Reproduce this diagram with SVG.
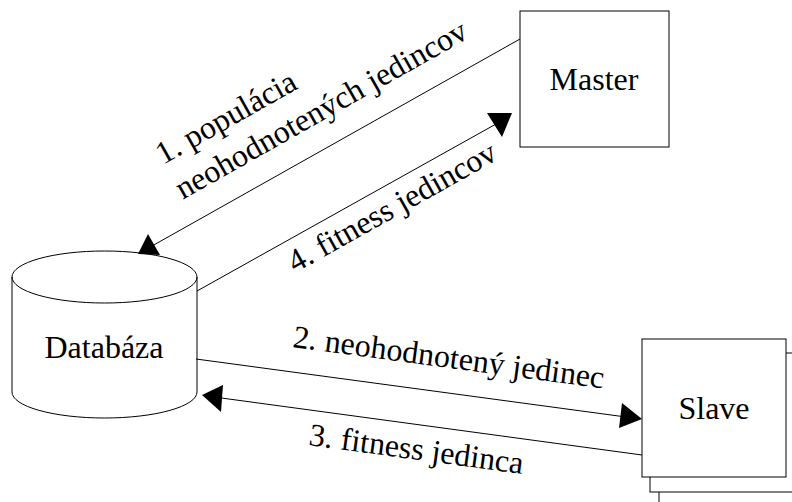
<svg xmlns="http://www.w3.org/2000/svg" width="792" height="502" viewBox="0 0 792 502" font-family="'Liberation Serif', 'Times New Roman', Times, serif">
  <style>
    .box { fill: #ffffff; stroke: #000000; stroke-width: 1; }
    .wire { fill: none; stroke: #000000; stroke-width: 1; }
    .head { fill: #000000; stroke: none; }
    text { font-family: 'Liberation Serif', 'Times New Roman', Times, serif; font-size: 32px; fill: #000000; }
    .mid { text-anchor: middle; }
  </style>
  <rect x="0" y="0" width="792" height="502" fill="#ffffff"/>

  <!-- Master -->
  <g id="master">
    <rect class="box" x="520" y="11" width="149" height="136"/>
    <text class="mid" x="594" y="90">Master</text>
  </g>

  <!-- Database cylinder -->
  <g id="databaza">
    <path class="box" d="M12,277 L12,392 A92.5,26 0 0 0 197,392 L197,277 A92.5,26 0 0 0 12,277 Z"/>
    <path class="wire" d="M12,277 A92.5,26 0 0 0 197,277"/>
    <text class="mid" x="104" y="358">Databáza</text>
  </g>

  <!-- Slave (stack of workers) -->
  <g id="slave">
    <rect class="box" x="659" y="368" width="144" height="139"/>
    <rect class="box" x="650" y="353" width="144" height="139"/>
    <rect class="box" x="642" y="339" width="144" height="138"/>
    <text class="mid" x="714" y="419">Slave</text>
  </g>

  <!-- Connectors -->
  <g id="connectors">
    <line class="wire" x1="520" y1="39" x2="152" y2="246"/>
    <polygon class="head" points="148,234 138,254 160,255"/>

    <line class="wire" x1="197" y1="291" x2="496" y2="124"/>
    <polygon class="head" points="487,113 512,113 502,137"/>

    <line class="wire" x1="196" y1="359" x2="626" y2="417"/>
    <polygon class="head" points="622,403 642,419 619,428"/>

    <line class="wire" x1="642" y1="455" x2="214" y2="397"/>
    <polygon class="head" points="223,385 202,395 221,412"/>
  </g>

  <!-- Labels -->
  <g id="labels">
    <text transform="translate(163,165) rotate(-29.5)">
      <tspan x="0" y="0">1. populácia</tspan>
      <tspan x="0" y="40">neohodnotených jedincov</tspan>
    </text>
    <text transform="translate(295,273) rotate(-29.2)">4. fitness jedincov</text>
    <text transform="translate(292,347) rotate(7.6)">2. neohodnotený jedinec</text>
    <text transform="translate(308,445) rotate(7.7)">3. fitness jedinca</text>
  </g>
</svg>
